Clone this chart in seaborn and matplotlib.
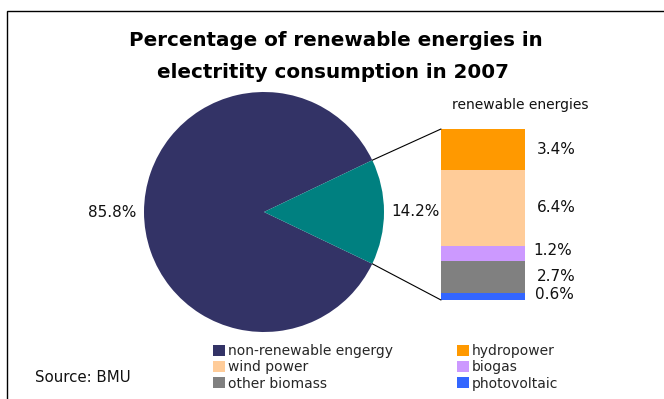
import matplotlib
matplotlib.use("Agg")
import matplotlib.pyplot as plt
import seaborn as sns
import numpy as np
from matplotlib.patches import ConnectionPatch, Rectangle

# ---- data ----
pie_labels = ["non-renewable engergy", "renewable energies"]
pie_values = [85.8, 14.2]
pie_colors = ["#333366", "#008080"]

ren_labels = ["photovoltaic", "other biomass", "biogas", "wind power", "hydropower"]  # bottom -> top
ren_values = [0.6, 2.7, 1.2, 6.4, 3.4]
ren_colors = ["#3366FF", "#808080", "#CC99FF", "#FFCC99", "#FF9900"]

title_lines = ["Percentage of renewable energies in", "electritity consumption in 2007"]
source_text = "Source: BMU"

sns.set_theme(style="white")
plt.rcParams["font.family"] = ["DejaVu Sans"]

W, H = 664, 399
fig = plt.figure(figsize=(W / 100, H / 100), dpi=100)
fig.patch.set_facecolor("white")

def fx(px):
    return px / W

def fy(py):
    return 1 - py / H

# frame (extends beyond right/bottom edge)
fig.add_artist(Rectangle((fx(7), -0.2), 2, fy(11) + 0.2, transform=fig.transFigure,
                         fill=False, edgecolor="black", linewidth=1.0))

# ---- pie ----
cx, cy, r = 264, 212, 120
ax_pie = fig.add_axes([fx(cx - r), fy(cy + r), 2 * r / W, 2 * r / H])
start = pie_values[1] / 100 * 360 / 2
wedges, texts = ax_pie.pie(pie_values, colors=pie_colors, startangle=start,
                           labels=[f"{v:.1f}%" for v in pie_values], labeldistance=1.06,
                           wedgeprops=dict(linewidth=0),
                           textprops=dict(fontsize=11, color="#111111"))
ax_pie.set_xlim(-1, 1)
ax_pie.set_ylim(-1, 1)
ax_pie.axis("off")

# ---- stacked bar (seaborn, overlapping cumulative bars) ----
bx0, bx1, by0, by1 = 441, 525, 129, 300
ax_bar = fig.add_axes([fx(bx0), fy(by1), (bx1 - bx0) / W, (by1 - by0) / H])
cum = np.cumsum(ren_values)
total = cum[-1]
for i in range(len(ren_values) - 1, -1, -1):
    sns.barplot(x=[0], y=[cum[i]], color=ren_colors[i], width=1.0, linewidth=0,
                saturation=1, ax=ax_bar)
patches = list(ax_bar.patches)[::-1]  # bottom -> top
bar_handles = {lab: patches[i] for i, lab in enumerate(ren_labels)}
ax_bar.set_xlim(-0.5, 0.5)
ax_bar.set_ylim(0, total)
ax_bar.axis("off")

bottoms = cum - np.array(ren_values)
label_dx = [0.62, 0.64, 0.60, 0.64, 0.64]
label_dy = [0.15, 0.0, 0.2, 0.0, 0.0]
for i, v in enumerate(ren_values):
    ax_bar.text(label_dx[i], bottoms[i] + v / 2 + label_dy[i], f"{v:.1f}%",
                ha="left", va="center", fontsize=11, color="#111111", clip_on=False)

fig.text(fx(520), fy(105), "renewable energies", ha="center", va="center",
         fontsize=10, color="#111111")

# connector lines
theta = np.deg2rad(start)
for sgn, yb in [(1, total), (-1, 0)]:
    con = ConnectionPatch(xyA=(np.cos(theta), sgn * np.sin(theta)), coordsA=ax_pie.transData,
                          xyB=(-0.5, yb), coordsB=ax_bar.transData,
                          color="black", linewidth=0.8)
    fig.add_artist(con)

# ---- title ----
fig.text(fx(336), fy(40), title_lines[0], ha="center", va="center", fontsize=14.3,
         fontweight="bold", color="black")
fig.text(fx(333), fy(72), title_lines[1], ha="center", va="center", fontsize=14.3,
         fontweight="bold", color="black")

# ---- legends ----
leg_kw = dict(loc="upper left", frameon=False, fontsize=10, handlelength=0.85,
              handleheight=0.85, handletextpad=0.2, labelspacing=0.17,
              borderpad=0, borderaxespad=0)
h1 = [wedges[0], bar_handles["wind power"], bar_handles["other biomass"]]
l1 = ["non-renewable engergy", "wind power", "other biomass"]
h2 = [bar_handles["hydropower"], bar_handles["biogas"], bar_handles["photovoltaic"]]
l2 = ["hydropower", "biogas", "photovoltaic"]
fig.legend(h1, l1, bbox_to_anchor=(fx(213), fy(344)), **leg_kw)
fig.legend(h2, l2, bbox_to_anchor=(fx(457), fy(344)), **leg_kw)

fig.text(fx(35), fy(378), source_text, ha="left", va="center", fontsize=10.8, color="#111111")

fig.savefig("out.png", dpi=100)
